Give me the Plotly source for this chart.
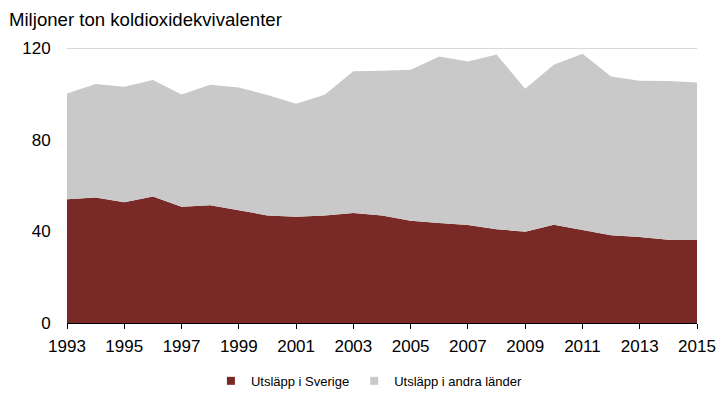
import plotly.graph_objects as go

years = list(range(1993, 2016))
sverige = [54.1, 54.8, 52.8, 55.3, 50.8, 51.4, 49.3, 47.0, 46.4, 47.0, 48.0, 47.0,
           44.7, 43.7, 42.8, 41.0, 39.9, 42.9, 40.6, 38.3, 37.6, 36.4, 36.4]
totalt = [100.3, 104.4, 103.2, 106.2, 99.8, 104.1, 102.9, 99.6, 95.8, 99.7, 110.0, 110.2,
          110.6, 116.4, 114.2, 117.3, 102.3, 112.8, 117.6, 107.7, 105.8, 105.7, 105.1]
andra = [round(t - s, 1) for t, s in zip(totalt, sverige)]
tick_years = list(range(1993, 2016, 2))
y_ticks = [0, 40, 80, 120]

red = "#7a2a26"
gray = "#c9c9c9"
font = "Liberation Sans, Arial, sans-serif"

fig = go.Figure()
fig.add_trace(go.Scatter(x=years, y=sverige, stackgroup="one", mode="none",
                         fillcolor=red, name="Utsläpp i Sverige", showlegend=False))
fig.add_trace(go.Scatter(x=years, y=andra, stackgroup="one", mode="none",
                         fillcolor=gray, name="Utsläpp i andra länder", showlegend=False))
# legend entries with square markers
fig.add_trace(go.Scatter(x=[None], y=[None], mode="markers",
                         marker=dict(symbol="square", size=8, color=red),
                         name="Utsläpp i Sverige"))
fig.add_trace(go.Scatter(x=[None], y=[None], mode="markers",
                         marker=dict(symbol="square", size=8, color=gray),
                         name="Utsläpp i andra länder"))

fig.update_layout(
    width=724, height=395,
    margin=dict(l=67, r=27, t=46, b=72, autoexpand=False),
    paper_bgcolor="white", plot_bgcolor="white",
    font=dict(family=font, color="black"),
    showlegend=True,
    legend=dict(orientation="h", x=0.48, xanchor="center", y=-0.209, yanchor="middle",
                font=dict(size=13, family=font), itemwidth=30, traceorder="normal"),
    annotations=[dict(text="Miljoner ton koldioxidekvivalenter", xref="paper", yref="paper",
                      x=-0.0953, y=1.0, xanchor="left", yanchor="middle", yshift=27,
                      showarrow=False, font=dict(size=18.6, family=font))],
)
fig.update_xaxes(range=[1993, 2015], tickvals=tick_years, ticks="outside", ticklen=5,
                 tickcolor="black", showline=True, linecolor="black", linewidth=1,
                 showgrid=False, zeroline=False, tickfont=dict(size=17), fixedrange=True,
                 ticklabelstandoff=3)
fig.update_yaxes(range=[0, 121], tickvals=y_ticks, showgrid=True, gridcolor="#d9d9d9",
                 gridwidth=1, zeroline=False, showline=False, ticks="outside", ticklen=12,
                 tickcolor="rgba(0,0,0,0)", tickfont=dict(size=17), fixedrange=True)

fig.write_html("out.html", config={"displayModeBar": False},
               post_script="document.body.style.margin='0';")
